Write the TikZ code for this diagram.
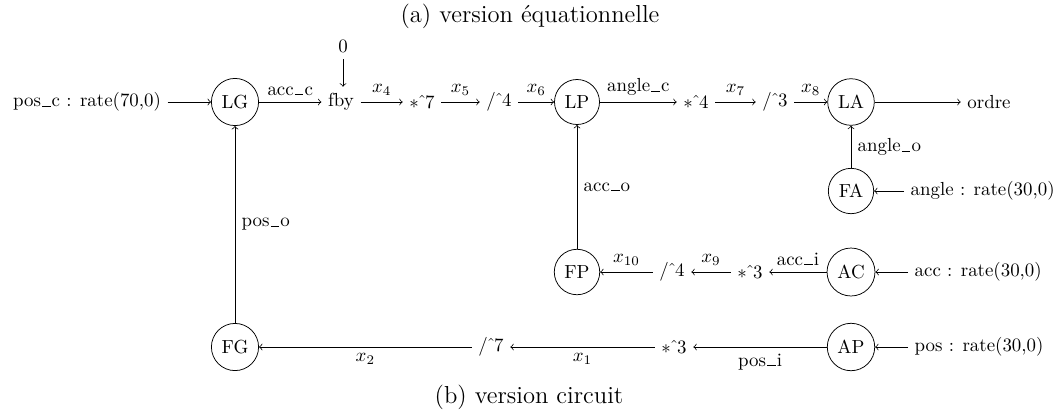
\documentclass[tikz,border=0pt]{standalone}
\usepackage{fontspec}
\newcommand\usc{\kern.06em\rule{.45em}{.4pt}\kern.06em}
\begin{document}
\begin{tikzpicture}[x=0.529pt,y=-0.529pt,>=to,
  blk/.style={circle,draw},
  captxt/.style={font=\fontsize{13}{15.6}\selectfont}]
\useasboundingbox (0,0) rectangle (1057,412);
\node[captxt] (t1) at (530,16) {(a) version équationnelle};
\node[captxt] (t2) at (529,397) {(b) version circuit};
% top row
\node (in1) at (87,102) {pos\usc c : rate(70,0)};
\node[blk] (LG) at (235,102) {LG};
\node (fby) at (341,102) {fby};
\node (zero) at (343,46) {0};
\node (m7) at (422,102) {$*\hat{~}7$};
\node (d4) at (499,102) {$/\hat{~}4$};
\node[blk] (LP) at (577,102) {LP};
\node (m4) at (696,102) {$*\hat{~}4$};
\node (d3) at (775,102) {$/\hat{~}3$};
\node[blk] (LA) at (851,102) {LA};
\node (ordre) at (989,102) {ordre};
\node[blk] (FA) at (851,191) {FA};
\node[anchor=west] (in2) at (904,191) {angle : rate(30,0)};
% middle row
\node[blk] (FP) at (577,272) {FP};
\node (d4b) at (672,272) {$/\hat{~}4$};
\node (m3) at (750,272) {$*\hat{~}3$};
\node[blk] (AC) at (851,272) {AC};
\node[anchor=west] (in3) at (908,272) {acc : rate(30,0)};
% bottom row
\node[blk] (FG) at (235,347) {FG};
\node (d7) at (491,347) {$/\hat{~}7$};
\node (m3b) at (674,347) {$*\hat{~}3$};
\node[blk] (AP) at (851,347) {AP};
\node[anchor=west] (in4) at (908,347) {pos : rate(30,0)};
% edges
\draw[->] (in1) -- (LG);
\draw[->] (LG) -- node[above] {acc\usc c} (fby);
\draw[->] (zero) -- (zero |- fby.north);
\draw[->] (fby) -- node[above] {$x_4$} (m7);
\draw[->] (m7) -- node[above] {$x_5$} (d4);
\draw[->] (d4) -- node[above] {$x_6$} (LP);
\draw[->] (LP) -- node[above] {angle\usc c} (m4);
\draw[->] (m4) -- node[above] {$x_7$} (d3);
\draw[->] (d3) -- node[above] {$x_8$} (LA);
\draw[->] (LA) -- (ordre);
\draw[->] (FA) -- node[right] {angle\usc o} (LA);
\draw[->] (in2) -- (FA);
\draw[->] (FP) -- node[right] {acc\usc o} (LP);
\draw[->] (in3) -- (AC);
\draw[->] (AC) -- node[above] {acc\usc i} (m3);
\draw[->] (m3) -- node[above] {$x_9$} (d4b);
\draw[->] (d4b) -- node[above] {$x_{10}$} (FP);
\draw[->] (in4) -- (AP);
\draw[->] (AP) -- node[below] {pos\usc i} (m3b);
\draw[->] (m3b) -- node[below] {$x_1$} (d7);
\draw[->] (d7) -- node[below] {$x_2$} (FG);
\draw[->] (FG) -- node[right] {pos\usc o} (LG);
\end{tikzpicture}
\end{document}
